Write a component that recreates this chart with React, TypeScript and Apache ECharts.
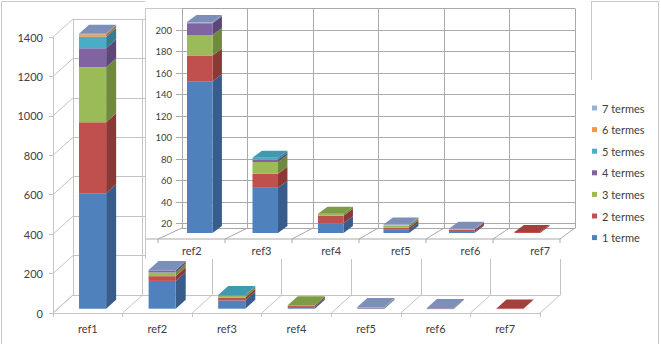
import React, { useEffect, useRef } from "react";
import * as echarts from "echarts";

// ---------- data ----------
const categories = ["ref1", "ref2", "ref3", "ref4", "ref5", "ref6", "ref7"];
const insetCategories = ["ref2", "ref3", "ref4", "ref5", "ref6", "ref7"];
const seriesNames = ["1 terme", "2 termes", "3 termes", "4 termes", "5 termes", "6 termes", "7 termes"];
const terme1 = [586, 141, 42, 9, 3, 1, 0];
const terme2 = [360, 24, 13, 7, 2, 2, 1];
const terme3 = [279, 19, 11, 2, 2, 0, 0];
const terme4 = [96, 11, 2, 0, 0, 0, 0];
const terme5 = [59, 0, 2, 0, 0, 0, 0];
const terme6 = [12, 0, 0, 0, 0, 0, 0];
const terme7 = [3, 1, 0, 0, 1, 1, 0];
const mainTicks = [0, 200, 400, 600, 800, 1000, 1200, 1400];
const insetRange = [16, 220];

// ---------- styles / layout ----------
const FONT = 'Lato, "Open Sans", sans-serif';
const TEXT = "#404040";
const MAIN_LINE = "#c4c4c4";
const INSET_LINE = "#a9a9a9";
const FRONT = ["#4F81BD", "#C0504D", "#9BBB59", "#8064A2", "#4BACC6", "#F79646", "#95B3D7"];
const SIDE = ["#385D8A", "#8C3836", "#71893F", "#5C4776", "#357D91", "#B66D31", "#6E86A6"];
const TOP = ["#5B7DB3", "#A33F3C", "#7E9B45", "#6B5290", "#3F9AB0", "#D98038", "#7C8FB8"];

const MAIN_BACK = { left: 73, top: 19, width: 487, height: 276 };
const MAIN_DEPTH = { dx: -20, dy: 18 };
const MAIN_BAR = { widthRatio: 0.39, faceDX: -15.2, faceDY: 13.7, sx: 10, sy: -9 };

const INSET_BACK = { left: 182, top: 8.5, width: 393, height: 219.5 };
const INSET_FRONT = { left: 158, right: 560, y: 239 };
const INSET_BAR = { widthRatio: 0.39, faceDX: -15, faceDY: 5, sx: 9.4, sy: -7 };
const INSET_LABELS = { left: 157, width: 418, top: 239, height: 1 };
const INSET_BOX = { x: 145, y: 0, width: 446, height: 259 };

const allTerms = [terme1, terme2, terme3, terme4, terme5, terme6, terme7];

function stackData(catIdx: number[], base: number) {
  return allTerms.map((vals, s) =>
    catIdx
      .map((ci, j) => {
        let start = base;
        for (let p = 0; p < s; p++) start += allTerms[p][ci];
        let topIdx = -1;
        for (let p = 0; p < allTerms.length; p++) if (allTerms[p][ci] > 0) topIdx = p;
        return vals[ci] > 0 ? [j, start, start + vals[ci], s === topIdx ? 1 : 0] : null;
      })
      .filter((d) => d !== null)
  );
}

function barRenderer(s: number, geo: typeof MAIN_BAR) {
  return (_params: any, api: any) => {
    const cat = api.value(0);
    const start = api.value(1);
    const end = api.value(2);
    const isTop = api.value(3);
    const band = api.size([1, 0])[0];
    const pb = api.coord([cat, start]);
    const pt = api.coord([cat, end]);
    const w = band * geo.widthRatio;
    const x0 = pb[0] + geo.faceDX - w / 2;
    const yb = pb[1] + geo.faceDY;
    const yt = pt[1] + geo.faceDY;
    const { sx, sy } = geo;
    const children: any[] = [
      {
        type: "polygon",
        shape: { points: [[x0 + w, yt], [x0 + w + sx, yt + sy], [x0 + w + sx, yb + sy], [x0 + w, yb]] },
        style: { fill: SIDE[s] },
      },
      { type: "rect", shape: { x: x0, y: yt, width: w, height: Math.max(yb - yt, 0.6) }, style: { fill: FRONT[s] } },
    ];
    if (isTop) {
      children.push({
        type: "polygon",
        shape: { points: [[x0, yt], [x0 + w, yt], [x0 + w + sx, yt + sy], [x0 + sx, yt + sy]] },
        style: { fill: TOP[s] },
      });
    }
    return { type: "group", children };
  };
}

function line(x1: number, y1: number, x2: number, y2: number, color: string) {
  return { type: "line", shape: { x1, y1, x2, y2 }, style: { stroke: color, lineWidth: 1 } };
}

function buildOption(): any {
  const mainData = stackData([0, 1, 2, 3, 4, 5, 6], 0);
  const insetData = stackData([1, 2, 3, 4, 5, 6], insetRange[0]);

  const series: any[] = [];

  // main frame (left wall slants + floor slants)
  series.push({
    type: "custom",
    name: "mainFrame",
    xAxisIndex: 0,
    yAxisIndex: 0,
    z: 1,
    silent: true,
    data: [[0]],
    renderItem: (_p: any, api: any) => {
      const band = api.size([1, 0])[0];
      const x0 = api.coord([0, 0])[0] - band / 2;
      const y0 = api.coord([0, 0])[1];
      const children: any[] = [];
      mainTicks.forEach((v) => {
        const y = api.coord([0, v])[1];
        children.push(line(x0 + MAIN_DEPTH.dx, y + MAIN_DEPTH.dy, x0, y, MAIN_LINE));
      });
      for (let k = 0; k <= categories.length; k++) {
        const x = x0 + k * band;
        children.push(line(x + MAIN_DEPTH.dx, y0 + MAIN_DEPTH.dy, x, y0, MAIN_LINE));
      }
      return { type: "group", children };
    },
  });

  mainData.forEach((data, s) => {
    series.push({
      type: "custom",
      name: seriesNames[s],
      xAxisIndex: 0,
      yAxisIndex: 0,
      z: 2,
      itemStyle: { color: FRONT[s] },
      data,
      renderItem: barRenderer(s, MAIN_BAR),
    });
  });

  // inset frame
  series.push({
    type: "custom",
    name: "insetFrame",
    xAxisIndex: 2,
    yAxisIndex: 2,
    z: 7,
    silent: true,
    data: [[0]],
    renderItem: (_p: any, api: any) => {
      const band = api.size([1, 0])[0];
      const x0 = api.coord([0, insetRange[0]])[0] - band / 2;
      const y0 = api.coord([0, insetRange[0]])[1];
      const scale = (INSET_FRONT.right - INSET_FRONT.left) / (band * insetCategories.length);
      const children: any[] = [];
      children.push(line(INSET_BOX.x + 1, INSET_FRONT.y, INSET_FRONT.right, INSET_FRONT.y, INSET_LINE));
      for (let k = 0; k <= insetCategories.length; k++) {
        const xb = x0 + k * band;
        const xf = INSET_FRONT.left + k * band * scale;
        children.push(line(xf, INSET_FRONT.y, xb, y0, INSET_LINE));
        children.push(line(xf, INSET_FRONT.y, xf, INSET_FRONT.y + 4, INSET_LINE));
      }
      return { type: "group", children };
    },
  });

  insetData.forEach((data, s) => {
    series.push({
      type: "custom",
      name: seriesNames[s],
      xAxisIndex: 2,
      yAxisIndex: 2,
      z: 8,
      itemStyle: { color: FRONT[s] },
      data,
      renderItem: barRenderer(s, INSET_BAR),
    });
  });

  const labelStyle = { fontFamily: FONT, color: TEXT };
  const plain = (v: number) => String(v);

  return {
    animation: false,
    backgroundColor: "#ffffff",
    textStyle: { fontFamily: FONT },
    grid: [
      { ...MAIN_BACK, containLabel: false },
      {
        left: MAIN_BACK.left + MAIN_DEPTH.dx,
        top: MAIN_BACK.top + MAIN_DEPTH.dy,
        width: MAIN_BACK.width,
        height: MAIN_BACK.height,
      },
      { ...INSET_BACK, z: 6 },
      { ...INSET_LABELS, z: 6 },
    ],
    xAxis: [
      {
        type: "category",
        gridIndex: 0,
        data: categories,
        axisLine: { show: true, lineStyle: { color: MAIN_LINE } },
        axisTick: { show: false },
        axisLabel: { show: false },
        splitLine: { show: true, lineStyle: { color: MAIN_LINE } },
      },
      {
        type: "category",
        gridIndex: 1,
        data: categories,
        axisLine: { show: true, lineStyle: { color: MAIN_LINE } },
        axisTick: { show: true, length: 4, lineStyle: { color: MAIN_LINE } },
        axisLabel: { ...labelStyle, fontSize: 11, margin: 10 },
        splitLine: { show: false },
      },
      {
        type: "category",
        gridIndex: 2,
        z: 6,
        data: insetCategories,
        axisLine: { show: true, lineStyle: { color: INSET_LINE } },
        axisTick: { show: false },
        axisLabel: { show: false },
        splitLine: { show: true, lineStyle: { color: INSET_LINE } },
      },
      {
        type: "category",
        gridIndex: 3,
        z: 6,
        data: insetCategories,
        axisLine: { show: false },
        axisTick: { show: false },
        axisLabel: { ...labelStyle, fontSize: 11, margin: 5 },
        splitLine: { show: false },
      },
    ],
    yAxis: [
      {
        type: "value",
        gridIndex: 0,
        min: mainTicks[0],
        max: mainTicks[mainTicks.length - 1],
        interval: mainTicks[1] - mainTicks[0],
        axisLine: { show: true, lineStyle: { color: MAIN_LINE } },
        axisTick: { show: false },
        axisLabel: { show: false },
        splitLine: { show: true, lineStyle: { color: MAIN_LINE } },
      },
      {
        type: "value",
        gridIndex: 1,
        min: mainTicks[0],
        max: mainTicks[mainTicks.length - 1],
        interval: mainTicks[1] - mainTicks[0],
        axisLine: { show: true, lineStyle: { color: MAIN_LINE } },
        axisTick: { show: true, length: 4, lineStyle: { color: MAIN_LINE } },
        axisLabel: { ...labelStyle, fontSize: 11, margin: 10, formatter: plain },
        splitLine: { show: false },
      },
      {
        type: "value",
        gridIndex: 2,
        z: 6,
        min: insetRange[0],
        max: insetRange[1],
        splitNumber: 10,
        minInterval: 20,
        maxInterval: 20,
        axisLine: { show: true, lineStyle: { color: INSET_LINE } },
        axisTick: { show: true, length: 6, lineStyle: { color: INSET_LINE } },
        axisLabel: {
          ...labelStyle,
          fontSize: 9.5,
          margin: 10,
          showMinLabel: false,
          showMaxLabel: false,
          formatter: plain,
        },
        splitLine: { show: true, lineStyle: { color: INSET_LINE } },
      },
      {
        type: "value",
        gridIndex: 3,
        show: false,
        min: 0,
        max: 1,
      },
    ],
    legend: {
      data: [...seriesNames].reverse(),
      orient: "vertical",
      left: 592,
      top: 102,
      padding: 0,
      itemWidth: 5,
      itemHeight: 5,
      itemGap: 9.6,
      icon: "rect",
      selectedMode: false,
      textStyle: { fontFamily: FONT, fontSize: 11, color: TEXT, lineHeight: 12 },
    },
    graphic: [
      {
        type: "rect",
        z: 0,
        silent: true,
        shape: { x: 1.5, y: 1.5, width: 657, height: 370 },
        style: { fill: "none", stroke: "#c8c8c8", lineWidth: 1 },
      },
      {
        type: "rect",
        z: 5,
        silent: true,
        shape: { ...INSET_BOX },
        style: { fill: "#ffffff" },
      },
      {
        type: "line",
        z: 6,
        silent: true,
        shape: { x1: INSET_BOX.x + 0.5, y1: 8.5, x2: INSET_BOX.x + 0.5, y2: INSET_BOX.height },
        style: { stroke: "#c8c8c8", lineWidth: 1 },
      },
      {
        type: "line",
        z: 6,
        silent: true,
        shape: { x1: INSET_BOX.x + 0.5, y1: 8.5, x2: INSET_BACK.left, y2: 8.5 },
        style: { stroke: "#c8c8c8", lineWidth: 1 },
      },
      {
        type: "line",
        z: 6,
        silent: true,
        shape: {
          x1: INSET_BOX.x + INSET_BOX.width + 0.5,
          y1: 1.5,
          x2: INSET_BOX.x + INSET_BOX.width + 0.5,
          y2: 80,
        },
        style: { stroke: "#c8c8c8", lineWidth: 1 },
      },
    ],
    series,
  };
}

export default function App() {
  const ref = useRef<HTMLDivElement>(null);
  useEffect(() => {
    const chart = echarts.init(ref.current as HTMLDivElement, null, { renderer: "svg" });
    chart.setOption(buildOption());
    return () => chart.dispose();
  }, []);
  return (
    <div
      ref={ref}
      style={{ position: "fixed", left: 0, top: 0, width: 661, height: 344, background: "#fff" }}
    />
  );
}
